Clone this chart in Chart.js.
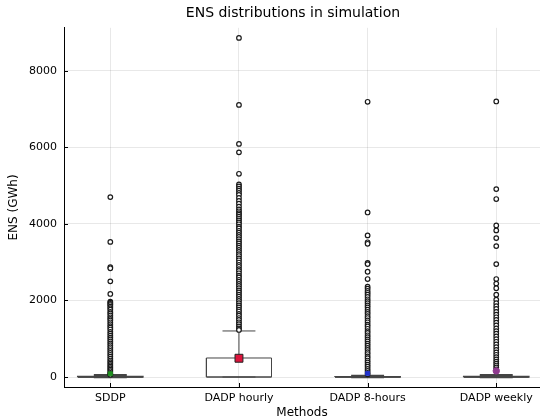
<!DOCTYPE html>
<html>
<head>
<meta charset="utf-8">
<script src="https://cdn.jsdelivr.net/npm/chart.js@4.4.1/dist/chart.umd.min.js"></script>
<style>
  html, body { margin: 0; padding: 0; background: #fff; }
  #wrap { width: 540px; height: 420px; }
</style>
</head>
<body>
<div id="wrap"><canvas id="ensChart" width="540" height="420"></canvas></div>
<script>
// box plot summary per method (GWh)
const methods = ['SDDP', 'DADP hourly', 'DADP 8-hours', 'DADP weekly'];
const q1 = [0, 0, 0, 0];
const medians = [0, 0, 0, 0];
const q3 = [10, 497, 5, 15];
const whiskerLow = [0, 0, 0, 0];
const whiskerHigh = [45, 1203, 30, 50];
const means = [85, 490, 95, 160];
const meanColors = ['#1f8f1f', '#dc143c', '#2233cc', '#8e3a8e'];

const outliersSDDP = [4700, 3530, 2870, 2840, 2500, 2170, 1970, 1940, 1910, 1880, 1840, 1800, 1760, 1700, 1660,
  1610, 1560, 1520, 1480, 1430, 1380, 1330, 1290, 1240, 1180, 1130, 1080, 1030, 980, 930, 880, 830, 780, 730,
  680, 630, 580, 530, 480, 430, 390, 350, 310, 270, 230, 190, 150, 110, 80, 60];
const outliersHourly = [8860, 7110, 6090, 5870, 5310, 5030, 4980, 4920, 4870, 4810, 4760, 4680, 4600, 4530, 4450,
  4380, 4330, 4280, 4240, 4190, 4140, 4090, 4040, 3990, 3930, 3880, 3820, 3770, 3710, 3660, 3600, 3540, 3490,
  3430, 3380, 3320, 3270, 3210, 3160, 3100, 3050, 2990, 2930, 2880, 2820, 2770, 2710, 2650, 2600, 2540, 2490,
  2430, 2380, 2320, 2260, 2210, 2150, 2100, 2040, 1990, 1930, 1870, 1820, 1760, 1710, 1650, 1600, 1540, 1490,
  1430, 1380, 1320, 1270, 1230];
const outliers8h = [7190, 4300, 3700, 3520, 3480, 2980, 2950, 2750, 2560, 2360, 2310, 2250, 2200, 2150, 2090,
  2030, 1980, 1930, 1870, 1820, 1760, 1700, 1650, 1590, 1540, 1480, 1430, 1370, 1320, 1260, 1200, 1150, 1090,
  1040, 980, 930, 870, 820, 760, 710, 650, 600, 540, 490, 430, 380, 320, 270, 210, 160, 110, 70];
const outliersWeekly = [7200, 4910, 4650, 3960, 3830, 3630, 3420, 2950, 2560, 2440, 2320, 2150, 2020, 1930, 1850,
  1780, 1700, 1630, 1560, 1490, 1420, 1350, 1270, 1200, 1130, 1060, 990, 920, 850, 780, 710, 640, 580, 520,
  460, 400, 350, 300, 250, 200];
const outliers = [outliersSDDP, outliersHourly, outliers8h, outliersWeekly];

const yTicks = [0, 2000, 4000, 6000, 8000];
const yMin = -261, yMax = 9124;

// categories sit at 0.5, 1.5, ... on a linear x axis
const xPos = methods.map((m, i) => i + 0.5);
const boxHalf = 0.253;
const capHalf = 0.128;
const lineColor = '#454545';
const FONT = 'DejaVu Sans';

function seg(points, order, width) {
  return {
    type: 'line',
    data: points,
    borderColor: lineColor,
    borderWidth: width || 1,
    pointRadius: 0,
    fill: false,
    tension: 0,
    order: order
  };
}

const datasets = [];

methods.forEach((m, i) => {
  const x = xPos[i];
  const flat = q3[i] < 100;
  // mean marker on top
  datasets.push({
    type: 'scatter',
    data: [{ x: x, y: means[i] }],
    pointStyle: i === 3 ? 'circle' : 'rect',
    pointRadius: i === 1 ? 5.6 : (i === 3 ? 3.2 : 2.8),
    backgroundColor: meanColors[i],
    borderColor: i === 1 ? '#222' : meanColors[i],
    borderWidth: 1,
    order: 0
  });
  // outliers
  datasets.push({
    type: 'scatter',
    data: outliers[i].map(v => ({ x: x, y: v })),
    pointStyle: 'circle',
    pointRadius: 2.3,
    backgroundColor: '#fff',
    borderColor: '#1a1a1a',
    borderWidth: 1.2,
    order: 1
  });
  // box outline
  datasets.push(seg([
    { x: x - boxHalf, y: q1[i] }, { x: x + boxHalf, y: q1[i] },
    { x: x + boxHalf, y: q3[i] }, { x: x - boxHalf, y: q3[i] },
    { x: x - boxHalf, y: q1[i] }
  ], 2, flat ? 1.6 : 1));
  // median
  datasets.push(seg([{ x: x - boxHalf, y: medians[i] }, { x: x + boxHalf, y: medians[i] }], 2, flat ? 1.6 : 1));
  // whiskers and caps
  datasets.push(seg([{ x: x, y: q3[i] }, { x: x, y: whiskerHigh[i] }], 2));
  datasets.push(seg([{ x: x - capHalf, y: whiskerHigh[i] }, { x: x + capHalf, y: whiskerHigh[i] }], 2, flat ? 2.4 : 1));
  datasets.push(seg([{ x: x, y: q1[i] }, { x: x, y: whiskerLow[i] }], 2));
  datasets.push(seg([{ x: x - capHalf, y: whiskerLow[i] }, { x: x + capHalf, y: whiskerLow[i] }], 2, flat ? 2.4 : 1));
});

// small inward tick marks like the original plot
const innerTicks = {
  id: 'innerTicks',
  afterLayout(chart) {
    // centre the title over the plot area rather than the whole canvas
    if (chart.titleBlock) chart.titleBlock.left = 46;
  },
  afterDatasetsDraw(chart) {
    const { ctx, chartArea, scales } = chart;
    ctx.save();
    ctx.strokeStyle = '#000';
    ctx.lineWidth = 1;
    ctx.beginPath();
    yTicks.forEach(v => {
      const py = Math.round(scales.y.getPixelForValue(v)) + 0.5;
      ctx.moveTo(chartArea.left, py);
      ctx.lineTo(chartArea.left + 4, py);
    });
    xPos.forEach(v => {
      const px = Math.round(scales.x.getPixelForValue(v)) + 0.5;
      ctx.moveTo(px, chartArea.bottom);
      ctx.lineTo(px, chartArea.bottom - 4);
    });
    ctx.stroke();
    ctx.restore();
  }
};

const ctx = document.getElementById('ensChart').getContext('2d');
new Chart(ctx, {
  type: 'scatter',
  data: { datasets: datasets },
  options: {
    responsive: false,
    animation: false,
    events: [],
    layout: { padding: 0, autoPadding: false },
    plugins: {
      legend: { display: false },
      tooltip: { enabled: false },
      title: {
        display: true,
        text: 'ENS distributions in simulation',
        color: '#000',
        font: { family: FONT, size: 14, weight: 'normal' },
        padding: { top: 5, bottom: 6 }
      }
    },
    scales: {
      x: {
        type: 'linear',
        min: 0.14,
        max: 3.84,
        afterBuildTicks: s => { s.ticks = xPos.map(v => ({ value: v })); },
        afterFit: s => { s.height = 33; s.paddingLeft = 0; s.paddingRight = 0; },
        ticks: {
          color: '#000',
          font: { family: FONT, size: 11 },
          padding: 5,
          maxRotation: 0,
          autoSkip: false,
          callback: (v) => methods[Math.round(v - 0.5)]
        },
        grid: { color: 'rgba(0,0,0,0.09)', drawTicks: false },
        border: { display: true, color: '#000', width: 1 },
        title: {
          display: true,
          text: 'Methods',
          color: '#000',
          font: { family: FONT, size: 12 },
          padding: { top: 0, bottom: 0 }
        }
      },
      y: {
        type: 'linear',
        min: yMin,
        max: yMax,
        afterBuildTicks: s => { s.ticks = yTicks.map(v => ({ value: v })); },
        afterFit: s => { s.width = 64; s.paddingTop = 0; s.paddingBottom = 0; },
        ticks: {
          color: '#000',
          font: { family: FONT, size: 11 },
          padding: 7,
          callback: v => String(v)
        },
        grid: { color: 'rgba(0,0,0,0.09)', drawTicks: false },
        border: { display: true, color: '#000', width: 1 },
        title: {
          display: true,
          text: 'ENS (GWh)',
          color: '#000',
          font: { family: FONT, size: 12 },
          padding: { top: 7, bottom: 0 }
        }
      }
    }
  },
  plugins: [innerTicks]
});
</script>
</body>
</html>
